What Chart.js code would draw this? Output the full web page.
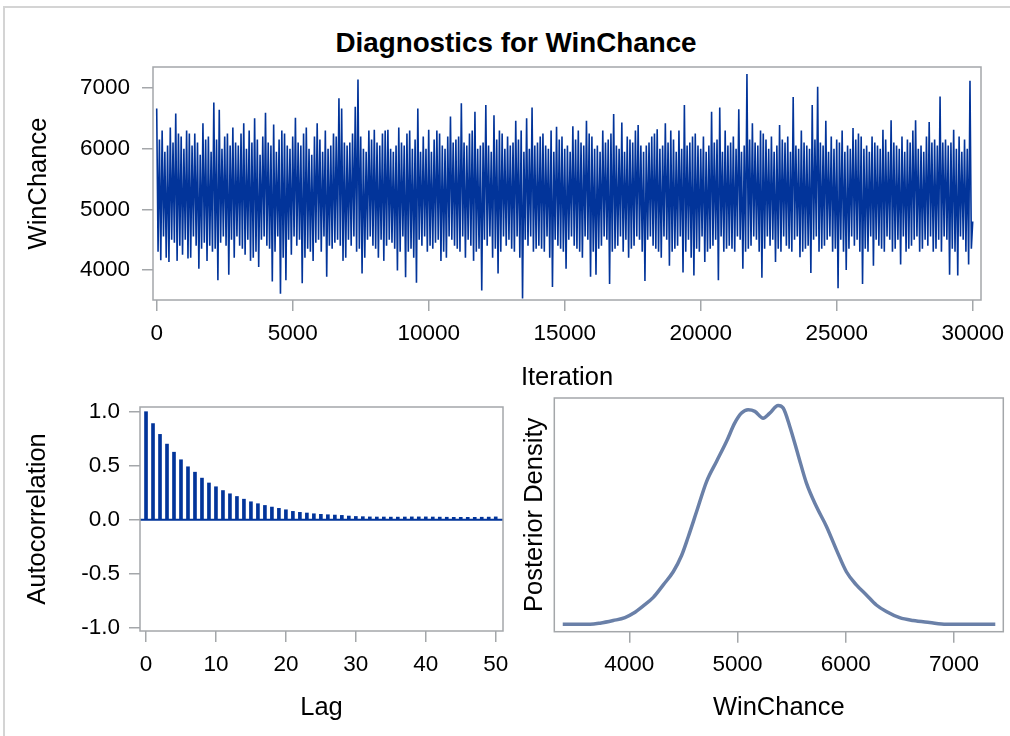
<!DOCTYPE html>
<html><head><meta charset="utf-8">
<script src="https://cdn.jsdelivr.net/npm/chart.js@4.4.0/dist/chart.umd.min.js"></script>
<style>
html,body{margin:0;padding:0;background:#fff;width:1010px;height:736px;overflow:hidden;}
#page{position:relative;width:1010px;height:736px;}
#border{position:absolute;left:3px;top:6px;width:1100px;height:800px;border-left:2px solid #d4d4d4;border-top:2px solid #d4d4d4;}
#title{position:absolute;left:0;top:25.8px;width:1032px;text-align:center;font:bold 27.8px "Liberation Sans",Arial,sans-serif;line-height:33px;color:#000;}
canvas{position:absolute;}
</style></head>
<body><div id="page"><div id="border"></div><div id="title">Diagnostics for WinChance</div>
<canvas id="c1" width="1010" height="395" style="left:0;top:0"></canvas>
<canvas id="c2" width="520" height="341" style="left:0;top:395px"></canvas>
<canvas id="c3" width="490" height="341" style="left:520px;top:395px"></canvas>
</div>
<script>
// ---------- data ----------
const traceStep = 50;
const traceValues = [
6660,4300,6150,4160,6300,4550,5950,4200,6050,4130,6350,4500,6100,4450,6580,4150,6250,4400,6200,4250,
6000,4500,6300,4190,6250,4200,6050,4550,6250,4400,6100,4020,5900,4350,6420,4450,6150,4150,6200,4400,
5950,4300,6760,4350,6150,3830,6640,4450,6000,4550,6200,4400,6250,3920,6050,4500,6350,4200,6100,4550,
6050,4400,6250,4350,6420,4250,6000,4500,6300,4150,6100,4200,6500,4300,6150,4050,5900,4500,6200,4550,
6590,4400,6100,4350,6050,3810,6400,4300,5950,4550,6150,3610,6300,4200,6250,3830,6050,4500,6000,4250,
6200,4550,6510,4400,6100,4500,6050,3780,6250,4200,6350,4350,6000,4300,5900,4150,6200,4450,6420,4500,
6150,4300,5950,4550,6300,3890,6000,4400,6050,4350,6250,4450,6200,4500,6830,4400,6660,4150,6100,4200,
6050,4500,6100,4400,6250,4550,6690,4300,7140,4350,6200,3940,6000,4200,5950,4500,6300,4550,6150,4400,
6310,4350,6100,4200,6050,4500,6250,4150,6300,4400,6310,4500,6000,4450,5950,4350,6050,3990,6350,4300,
6100,4550,6050,3880,6250,4300,6300,4350,6000,4200,6150,3790,6660,4500,5950,4400,6200,4550,6000,4300,
6310,4400,5950,4350,6150,4450,6300,4500,6250,4150,6050,4300,6000,4200,6200,4550,6530,4500,6100,4400,
6150,4350,6200,4300,6750,4550,6100,4200,6050,4500,6250,4400,6300,4150,6610,4300,6000,4350,6050,3660,
6100,4500,6720,4400,6050,4550,5950,4200,6550,4350,6150,3940,6300,4300,6250,4550,6000,4400,6200,4500,
6050,4350,6100,4300,6460,4550,6150,4200,6300,3530,5950,4500,6500,4400,6000,4550,6680,4300,6050,4350,
6100,4400,6200,4350,6250,4300,6050,4550,6000,4200,6300,3720,5950,4500,6360,4400,6150,4350,6200,4300,
6000,4020,6050,4500,5950,4550,6370,4400,6150,4350,6300,4300,6100,4200,6050,4550,6460,4500,6250,3890,
6200,4300,6000,3920,6050,4350,5950,4400,6300,4550,6100,4500,6150,3770,6250,4300,6570,4350,6050,4400,
6000,4550,6430,4300,5950,4500,6200,4200,6150,4350,6100,4400,6300,4550,6390,4500,6050,4300,5950,3820,
6050,4500,6100,4550,6200,4400,6250,4350,6320,4300,6000,4200,6050,4550,6420,4500,6100,4070,6300,4300,
6150,4350,5950,4400,6300,4550,6000,3960,6720,4300,6050,4500,6100,4200,6200,3910,6250,4350,6050,4300,
6000,4550,6200,4130,5950,4300,6050,4350,6610,4400,6100,4500,6150,3830,6680,4550,5950,4300,6300,4350,
6050,4400,6100,4350,6200,4300,6000,4550,6650,4500,5950,4020,6050,4300,7230,4350,6150,4400,6420,4550,
6100,4500,6050,4300,6300,3870,6250,4350,6150,4550,6000,4400,6200,4500,5950,4130,6050,4350,6390,4300,
6150,4550,6100,4400,6200,4350,5950,4300,6850,4500,6050,4550,6000,4210,6300,4300,6100,4350,6050,4400,
6000,3950,6720,4500,6150,4550,7020,4300,6100,4350,6050,4400,6460,4500,5950,4550,6200,4300,6000,4350,
6150,3700,6100,4500,6300,4300,5950,4000,6050,4350,6000,4550,6340,4400,6150,4500,6250,4300,6200,3770,
6000,4350,6050,4300,5950,4550,6200,4070,6100,4500,6050,4400,6000,4350,6310,4300,6150,4550,5950,4500,
6470,4300,6100,4350,6050,4500,6000,4090,6200,4550,5950,4300,6150,4350,6100,4400,6300,4500,6470,4550,
6000,4300,6050,4350,5950,4500,6200,4400,6440,4550,6100,4300,6150,4350,6050,4500,6860,4300,6100,4550,
6150,4500,6050,3920,6100,4350,6310,4300,6000,3910,6200,4550,5950,4500,6150,4300,6000,4090,7120,4350,
4800];
const traceIterations = traceValues.map((_, i) => i * traceStep);
const traceXTicks = [0, 5000, 10000, 15000, 20000, 25000, 30000];
const traceYTicks = [4000, 5000, 6000, 7000];

const acfLags = [0,1,2,3,4,5,6,7,8,9,10,11,12,13,14,15,16,17,18,19,20,21,22,23,24,25,26,27,28,29,30,31,32,33,34,35,36,37,38,39,40,41,42,43,44,45,46,47,48,49,50];
const acfValues = [1.0,0.89,0.79,0.70,0.625,0.555,0.49,0.44,0.385,0.34,0.305,0.27,0.24,0.215,0.19,0.166,0.148,0.132,0.117,0.105,0.092,0.077,0.068,0.062,0.055,0.05,0.046,0.043,0.04,0.034,0.03,0.028,0.026,0.025,0.025,0.024,0.024,0.025,0.026,0.026,0.026,0.025,0.024,0.023,0.022,0.022,0.022,0.022,0.023,0.024,0.026];
const acfXTicks = [0, 10, 20, 30, 40, 50];
const acfYTicks = [-1.0, -0.5, 0.0, 0.5, 1.0];

const densityX = [3385,3637,3729,3852,3960,4037,4129,4222,4314,4406,4483,4545,4622,4714,4806,4898,4975,5037,5098,5160,5237,5298,5375,5422,5483,5560,5637,5729,5822,5914,6006,6098,6191,6283,6375,6498,6622,6775,6929,7382];
const densityY = [0,0,0.005,0.017,0.03,0.05,0.084,0.123,0.18,0.24,0.314,0.40,0.515,0.652,0.744,0.835,0.92,0.965,0.98,0.973,0.942,0.965,1.0,0.988,0.904,0.774,0.645,0.538,0.447,0.34,0.24,0.18,0.134,0.088,0.058,0.03,0.017,0.008,0,0];
const densityXTicks = [4000, 5000, 6000, 7000];

// ---------- styling helpers ----------
const FONT = '"Liberation Sans", Arial, sans-serif';
const frameColor = '#a4a7aa';
const navy = '#02349a';
const densityColor = '#6a80a8';

const framePlugin = {
  id: 'frame',
  afterDatasetsDraw(chart) {
    const {ctx, chartArea: a} = chart;
    ctx.save();
    ctx.strokeStyle = frameColor;
    ctx.lineWidth = 1.5;
    ctx.strokeRect(a.left, a.top, a.right - a.left, a.bottom - a.top);
    ctx.restore();
  }
};
function fixedTicks(arr) { return s => { s.ticks = arr.map(v => ({value: v})); }; }
function fitSize(prop, val) {
  return s => { s[prop] = val; s.paddingTop = 0; s.paddingBottom = 0; s.paddingLeft = 0; s.paddingRight = 0; };
}
function xAxis(min, max, ticks, title, pad, h, pb, fmt) {
  return {
    type: 'linear', min, max, offset: false,
    afterBuildTicks: fixedTicks(ticks), afterFit: fitSize('height', h),
    border: {display: false},
    grid: {display: true, offset: false, drawOnChartArea: false, drawTicks: true, tickLength: 11, color: frameColor, lineWidth: 1.5},
    ticks: {color: '#000', font: {family: FONT, size: 22.5}, padding: pad, autoSkip: false, maxRotation: 0, callback: fmt},
    title: {display: true, text: title, color: '#000', font: {family: FONT, size: 25.5}, padding: {top: 0, bottom: pb}}
  };
}
function yAxis(min, max, ticks, title, pad, w, pt, fmt, show) {
  return {
    type: 'linear', min, max,
    afterBuildTicks: fixedTicks(ticks), afterFit: fitSize('width', w),
    border: {display: false},
    grid: {display: show, drawOnChartArea: false, drawTicks: true, tickLength: 11, color: frameColor, lineWidth: 1.5},
    ticks: {display: show, color: '#000', font: {family: FONT, size: 22.5}, padding: pad, callback: fmt},
    title: {display: true, text: title, color: '#000', font: {family: FONT, size: 25.5}, padding: {top: pt, bottom: 0}}
  };
}
const baseOpts = {responsive: false, animation: false, events: [],
  plugins: {legend: {display: false}, tooltip: {enabled: false}, title: {display: false}}};

// ---------- trace plot ----------
new Chart(document.getElementById('c1'), {
  type: 'line',
  data: {datasets: [{
    data: traceIterations.map((x, i) => ({x, y: traceValues[i]})),
    borderColor: navy, borderWidth: 1.6, pointRadius: 0, tension: 0, fill: false
  }]},
  options: Object.assign({}, baseOpts, {
    layout: {padding: {left: 0, top: 67, right: 29, bottom: 0}},
    scales: {
      x: xAxis(-136, 30305, traceXTicks, 'Iteration', 9, 95, 1.7, v => String(v)),
      y: yAxis(3505, 7346, traceYTicks, 'WinChance', 12, 153, 23.2, v => String(v), true)
    }
  }),
  plugins: [framePlugin]
});

// ---------- autocorrelation ----------
const acfMin = -0.86, acfMax = 51.04;
new Chart(document.getElementById('c2'), {
  type: 'bar',
  data: {datasets: [
    {type: 'line', data: [{x: acfMin, y: 0}, {x: acfMax, y: 0}], borderColor: navy, borderWidth: 2, pointRadius: 0},
    {type: 'bar', data: acfLags.map((x, i) => ({x, y: acfValues[i]})), backgroundColor: navy, barThickness: 3, borderWidth: 0}
  ]},
  options: Object.assign({}, baseOpts, {
    layout: {padding: {left: 0, top: 12, right: 17, bottom: 0}},
    scales: {
      x: xAxis(acfMin, acfMax, acfXTicks, 'Lag', 9.5, 105, 12.7, v => String(v)),
      y: yAxis(-1.0305, 1.0435, acfYTicks, 'Autocorrelation', 9, 140, 22.2, v => v.toFixed(1), true)
    }
  }),
  plugins: [framePlugin]
});

// ---------- density ----------
new Chart(document.getElementById('c3'), {
  type: 'line',
  data: {datasets: [{
    data: densityX.map((x, i) => ({x, y: densityY[i]})),
    borderColor: densityColor, borderWidth: 3.5, pointRadius: 0, cubicInterpolationMode: 'monotone', fill: false
  }]},
  options: Object.assign({}, baseOpts, {
    layout: {padding: {left: 0, top: 3, right: 6.7, bottom: 0}},
    scales: {
      x: xAxis(3307, 7456, densityXTicks, 'WinChance', 8.8, 104.3, 12.7, v => String(v)),
      y: yAxis(-0.034, 1.034, [], 'Posterior Density', 0, 34.3, 0, v => '', false)
    }
  }),
  plugins: [framePlugin]
});
</script>
</body></html>
